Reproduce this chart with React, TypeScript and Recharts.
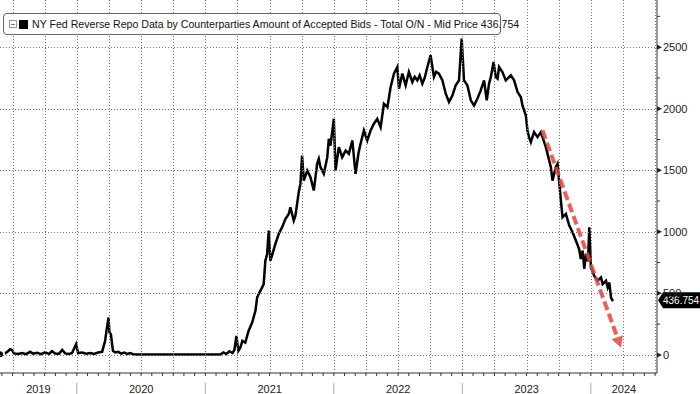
import React from "react";
import { LineChart, Line, XAxis, YAxis, ReferenceLine } from "recharts";

// dates as decimal years, values in $bn
const dates = [
  2019.402, 2019.433, 2019.464, 2019.48, 2019.495, 2019.511, 2019.542, 2019.574, 2019.605, 2019.636,
  2019.659, 2019.69, 2019.721, 2019.752, 2019.784, 2019.807, 2019.831, 2019.862, 2019.886, 2019.909,
  2019.94, 2019.963, 2019.994, 2020.01, 2020.041, 2020.073, 2020.104, 2020.135, 2020.166, 2020.197,
  2020.22, 2020.234, 2020.247, 2020.254, 2020.265, 2020.281, 2020.299, 2020.322, 2020.345, 2020.368,
  2020.392, 2020.415, 2020.439, 2020.462, 2020.727, 2021.0, 2021.117, 2021.14, 2021.164, 2021.187,
  2021.211, 2021.226, 2021.242, 2021.257, 2021.273, 2021.288, 2021.311, 2021.335, 2021.364, 2021.39,
  2021.403, 2021.415, 2021.442, 2021.454, 2021.467, 2021.481, 2021.493, 2021.506, 2021.519, 2021.545,
  2021.571, 2021.597, 2021.623, 2021.649, 2021.662, 2021.688, 2021.701, 2021.714, 2021.727, 2021.74,
  2021.753, 2021.766, 2021.793, 2021.818, 2021.844, 2021.87, 2021.883, 2021.896, 2021.922, 2021.949,
  2021.961, 2021.974, 2022.0, 2022.013, 2022.039, 2022.065, 2022.092, 2022.117, 2022.144, 2022.169,
  2022.192, 2022.208, 2022.234, 2022.26, 2022.286, 2022.312, 2022.338, 2022.364, 2022.39, 2022.417,
  2022.442, 2022.468, 2022.494, 2022.507, 2022.533, 2022.559, 2022.584, 2022.611, 2022.629, 2022.65,
  2022.668, 2022.689, 2022.707, 2022.728, 2022.753, 2022.779, 2022.796, 2022.818, 2022.845, 2022.871,
  2022.896, 2022.923, 2022.948, 2022.974, 2022.995, 2023.013, 2023.039, 2023.066, 2023.091, 2023.117,
  2023.143, 2023.169, 2023.19, 2023.208, 2023.222, 2023.243, 2023.26, 2023.274, 2023.286, 2023.312,
  2023.338, 2023.377, 2023.403, 2023.43, 2023.455, 2023.468, 2023.481, 2023.494, 2023.507, 2023.519,
  2023.533, 2023.558, 2023.585, 2023.611, 2023.624, 2023.65, 2023.676, 2023.689, 2023.702, 2023.727,
  2023.741, 2023.753, 2023.767, 2023.78, 2023.806, 2023.832, 2023.858, 2023.884, 2023.909, 2023.922,
  2023.936, 2023.949, 2023.962, 2023.978, 2023.988, 2024.001, 2024.026, 2024.053, 2024.079, 2024.092,
  2024.118, 2024.131, 2024.144, 2024.157, 2024.172,
];

const values = [
  5, 8, 30, 46, 40, 12, 8, 15, 6, 25,
  10, 18, 6, 20, 8, 30, 12, 10, 40, 12,
  8, 15, 87, 15, 20, 10, 15, 8, 20, 25,
  114, 222, 304, 182, 168, 33, 20, 25, 10, 18,
  8, 15, 6, 3, 3, 3, 3, 20, 8, 30,
  15, 40, 155, 33, 60, 114, 100, 190, 263, 358,
  466, 494, 548, 575, 765, 820, 1009, 765, 806, 901,
  982, 1036, 1104, 1145, 1199, 1091, 1131, 1226, 1321, 1389,
  1620, 1416, 1498, 1443, 1335, 1552, 1593, 1525, 1471, 1606,
  1756, 1700, 1918, 1498, 1688, 1606, 1660, 1634, 1742, 1471,
  1640, 1715, 1823, 1742, 1823, 1878, 1918, 1850, 2040, 2013,
  2176, 2285, 2339, 2163, 2285, 2190, 2298, 2217, 2260, 2230,
  2270, 2204, 2250, 2339, 2434, 2258, 2300, 2285, 2230, 2122,
  2054, 2108, 2190, 2230, 2570, 2230, 2190, 2068, 2027, 2081,
  2149, 2230, 2068, 2204, 2258, 2380, 2258, 2244, 2339, 2298,
  2230, 2271, 2230, 2135, 2095, 2027, 1986, 1945, 1823, 1769,
  1728, 1810, 1769, 1810, 1769, 1688, 1579, 1525, 1416, 1525,
  1552, 1416, 1253, 1118, 1145, 1050, 996, 928, 860, 779,
  847, 698, 820, 760, 1036, 711, 643, 602, 629, 575,
  602, 548, 588, 466, 436.754,
];

const lastPrice = 436.754;
const trendStart = [2023.624, 1824];
const trendEnd = [2024.235, 59];

const yTicks = [0, 250, 500, 750, 1000, 1250, 1500, 1750, 2000, 2250, 2500, 2750];
const yearLabels = ["2019", "2020", "2021", "2022", "2023", "2024"];
const legendTitle =
  "NY Fed Reverse Repo Data by Counterparties Amount of Accepted Bids - Total O/N - Mid Price 436.754";

const X_MIN = 2019.402;
const X_MAX = 2024.515;
const Y_MIN = -147;
const Y_MAX = 2883;

const CHART_W = 700;
const CHART_H = 394;
const Y_AXIS_W = 43;
const X_AXIS_H = 21;
const PLOT_W = CHART_W - Y_AXIS_W;
const PLOT_H = CHART_H - X_AXIS_H;

const data = dates.map((t, i) => ({ t, v: values[i] }));

// axis tick positions
const monthTicks: number[] = [];
for (let yr = 2019; yr <= 2024; yr++) {
  for (let m = 0; m < 12; m++) {
    const t = +(yr + m / 12).toFixed(4);
    if (t > X_MIN && t < X_MAX) monthTicks.push(t);
  }
}
const labelTicks = yearLabels.map((l) => {
  const s = Math.max(+l, X_MIN);
  const e = Math.min(+l + 1, X_MAX);
  return +((s + e) / 2 + 0.0005).toFixed(4);
});
const xTicks = [...monthTicks, ...labelTicks].sort((a, b) => a - b);

const FONT = "'Liberation Sans', Arial, sans-serif";
const GRID = { stroke: "#777", strokeDasharray: "1 2" };

function XTick(props: any) {
  const { x, y, payload } = props;
  const v = payload.value;
  const li = labelTicks.indexOf(v);
  if (li >= 0) {
    return (
      <text x={x} y={y + 16.5} textAnchor="middle" dy="0.35em" fontSize={11} fill="#222" fontFamily={FONT}>
        {yearLabels[li]}
      </text>
    );
  }
  const month = Math.round((v - Math.floor(v + 0.001)) * 12);
  const isYear = month === 0 || month === 12;
  const isQuarter = month % 3 === 0;
  const gx = Math.round(x) + 0.5;
  return (
    <g>
      {isQuarter && <line x1={gx} y1={y - PLOT_H} x2={gx} y2={y} {...GRID} />}
      <line x1={x} y1={y} x2={x} y2={y + 3} stroke="#333" />
      {isYear && <line x1={x} y1={y + 10} x2={x} y2={y + 21} stroke="#aaa" />}
    </g>
  );
}

function YTick(props: any) {
  const { x, y, payload } = props;
  const v = payload.value;
  if (v % 500 !== 0) {
    return <line x1={x} y1={y} x2={x + 3} y2={y} stroke="#333" />;
  }
  const gy = Math.round(y) + 0.5;
  return (
    <g>
      <line x1={x - PLOT_W} y1={gy} x2={x} y2={gy} {...GRID} />
      <polygon points={`${x},${y - 2.5} ${x + 5},${y} ${x},${y + 2.5}`} fill="#222" />
      <text x={x + 6} y={y} dy="0.35em" fontSize={11} fill="#222" fontFamily={FONT}>
        {v}
      </text>
    </g>
  );
}

function TrendArrow(props: any) {
  const { x1, y1, x2, y2 } = props;
  if ([x1, y1, x2, y2].some((n) => typeof n !== "number")) return null;
  const ang = Math.atan2(y2 - y1, x2 - x1);
  const head = 11;
  const half = 6;
  const bx = x2 - head * Math.cos(ang);
  const by = y2 - head * Math.sin(ang);
  const px = -Math.sin(ang) * half;
  const py = Math.cos(ang) * half;
  return (
    <g opacity={0.85}>
      <line x1={x1} y1={y1} x2={bx} y2={by} stroke="#e8463d" strokeWidth={4} strokeDasharray="9 4" />
      <polygon points={`${x2},${y2} ${bx + px},${by + py} ${bx - px},${by - py}`} fill="#e8463d" />
    </g>
  );
}

function PriceTag(props: any) {
  const vb = props.viewBox || {};
  const x0 = vb.x + vb.width + 1;
  const cy = vb.y - 1;
  return (
    <g>
      <polygon
        points={`${x0},${cy} ${x0 + 5},${cy - 8} ${x0 + 60},${cy - 8} ${x0 + 60},${cy + 8} ${x0 + 5},${cy + 8}`}
        fill="#000"
      />
      <text x={x0 + 5} y={cy} dy="0.35em" fontSize={10} fill="#fff" fontFamily={FONT}>
        {lastPrice}
      </text>
    </g>
  );
}

export default function App() {
  return (
    <div style={{ position: "absolute", left: 0, top: 0, width: CHART_W, height: CHART_H, background: "#fff", fontFamily: FONT }}>
      <LineChart width={CHART_W} height={CHART_H} data={data} margin={{ top: 0, right: 0, bottom: 0, left: 0 }}>
        <XAxis
          dataKey="t"
          type="number"
          domain={[X_MIN, X_MAX]}
          allowDataOverflow
          ticks={xTicks}
          interval={0}
          tick={<XTick />}
          tickLine={false}
          tickSize={0}
          tickMargin={0}
          height={X_AXIS_H}
          axisLine={{ stroke: "#333" }}
        />
        <YAxis
          orientation="right"
          type="number"
          domain={[Y_MIN, Y_MAX]}
          allowDataOverflow
          ticks={yTicks}
          interval={0}
          tick={<YTick />}
          tickLine={false}
          tickSize={0}
          tickMargin={0}
          width={Y_AXIS_W}
          axisLine={{ stroke: "#333" }}
        />
        <Line
          dataKey="v"
          type="linear"
          stroke="#000"
          strokeWidth={2.5}
          dot={false}
          isAnimationActive={false}
        />
        <ReferenceLine
          segment={[
            { x: trendStart[0], y: trendStart[1] },
            { x: trendEnd[0], y: trendEnd[1] },
          ]}
          shape={(p: any) => <TrendArrow {...p} />}
        />
        <ReferenceLine y={lastPrice} stroke="none" label={(p: any) => <PriceTag {...p} />} />
      </LineChart>
      <div
        style={{
          position: "absolute",
          left: 3,
          top: 13,
          width: 496,
          height: 20,
          border: "1px solid #666",
          borderRadius: 4,
          background: "#fff",
          display: "flex",
          alignItems: "center",
          fontSize: 10.6,
          color: "#111",
          whiteSpace: "nowrap",
        }}
      >
        <span style={{ flexShrink: 0, display: "inline-block", width: 6, height: 6, border: "1px solid #999", marginLeft: 5, position: "relative" }}>
          <span style={{ position: "absolute", left: 1, top: 2.5, width: 4, height: 1, background: "#777" }} />
        </span>
        <span style={{ flexShrink: 0, display: "inline-block", width: 9, height: 9, background: "#000", marginLeft: 2, marginRight: 4 }} />
        <span>{legendTitle}</span>
      </div>
    </div>
  );
}
